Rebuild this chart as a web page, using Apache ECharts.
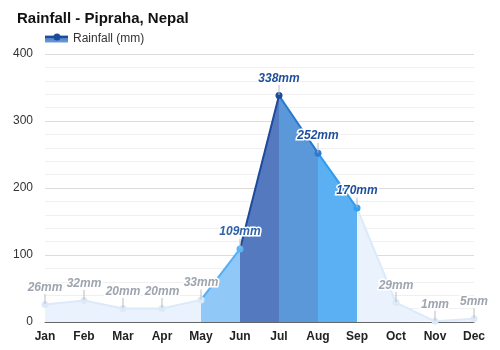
<!DOCTYPE html>
<html><head><meta charset="utf-8">
<script src="https://cdn.jsdelivr.net/npm/echarts@6/dist/echarts.min.js"></script>
<style>html,body{margin:0;padding:0;background:#fff}#c{width:500px;height:350px}</style>
</head><body><div id="c"></div>
<script>
var months = ['Jan','Feb','Mar','Apr','May','Jun','Jul','Aug','Sep','Oct','Nov','Dec'];
var rainfall = [26, 32, 20, 20, 33, 109, 338, 252, 170, 29, 1, 5];
var yTicks = [0, 100, 200, 300, 400];

function level(v){
  if (v >= 300) return {area:'#5579bf', line:'#1c4a9c', pt:'#1d4b98', lab:'#1f4f9c'};
  if (v >= 200) return {area:'#5b98d9', line:'#2778d2', pt:'#2c7ad3', lab:'#1f4f9c'};
  if (v >= 150) return {area:'#5bb0f4', line:'#2f9cef', pt:'#359ff0', lab:'#1f4f9c'};
  if (v >= 60)  return {area:'#90c8f8', line:'#55b0f5', pt:'#5ab4f5', lab:'#2f62a8'};
  return {area:'#eaf3fd', line:'#dbeaf9', pt:'#dde9f7', lab:'#9ea5af'};
}

var series = [];
for (var i = 1; i < rainfall.length; i++) {
  var d = rainfall.map(function(){return null;});
  d[i-1] = rainfall[i-1]; d[i] = rainfall[i];
  var c = level(rainfall[i]);
  series.push({
    type:'line', data:d, symbol:'none', silent:true, z:2,
    lineStyle:{color:c.line, width:2},
    areaStyle:{color:c.area, opacity:1},
    connectNulls:false
  });
}
series.push({
  name:'Rainfall (mm)', type:'line', z:5,
  data: rainfall.map(function(v){
    var c = level(v);
    return {value:v, itemStyle:{color:c.pt},
      label:{rich:{t:{color:c.lab}}}};
  }),
  lineStyle:{width:0, opacity:0},
  symbol:'circle', symbolSize:7,
  label:{show:true, position:'top', distance:-3,
    formatter:function(p){return '{t|'+p.value+'mm}\n{l|}';},
    rich:{
      t:{fontFamily:'Arial', fontSize:12, fontWeight:'bold', fontStyle:'italic',
         textBorderColor:'#fff', textBorderWidth:3, lineHeight:13, align:'center'},
      l:{width:1, height:10, backgroundColor:'#b8bcc2', align:'center'}
    }
  }
});

var chart = echarts.init(document.getElementById('c'), null, {renderer:'canvas'});
chart.setOption({
  animation:false,
  title:{text:'Rainfall - Pipraha, Nepal', left:12, top:6,
    textStyle:{fontFamily:'Arial', fontSize:15, fontWeight:'bold', color:'#111'}},
  legend:{left:40, top:28, itemWidth:23, itemHeight:7, itemGap:10,
    data:[{name:'Rainfall (mm)', icon:'rect',
      itemStyle:{color:new echarts.graphic.LinearGradient(0,0,0,1,[{offset:0,color:'#3a72c4'},{offset:1,color:'#6f9bd8'}])}}],
    textStyle:{fontFamily:'Arial', fontSize:12, color:'#333'}},
  graphic:[
    {type:'line', shape:{x1:45,y1:37,x2:68,y2:37}, style:{stroke:'#1c4a9c', lineWidth:2}, z:100},
    {type:'circle', shape:{cx:57,cy:37,r:3.5}, style:{fill:'#1d4b98'}, z:101}
  ],
  grid:{left:45, right:26, top:54, bottom:28},
  xAxis:{type:'category', data:months, boundaryGap:false,
    axisLine:{lineStyle:{color:'#666'}}, axisTick:{show:false},
    axisLabel:{fontFamily:'Arial', fontSize:12, fontWeight:'bold', color:'#222', margin:9}},
  yAxis:{type:'value', min:yTicks[0], max:yTicks[yTicks.length-1], interval:100,
    axisLabel:{fontFamily:'Arial', fontSize:12, color:'#333', margin:12},
    splitLine:{lineStyle:{color:'#dcdcdc'}},
    minorTick:{show:false, splitNumber:5},
    minorSplitLine:{show:true, lineStyle:{color:'#f0f0f3'}}},
  series:series
});
</script></body></html>
